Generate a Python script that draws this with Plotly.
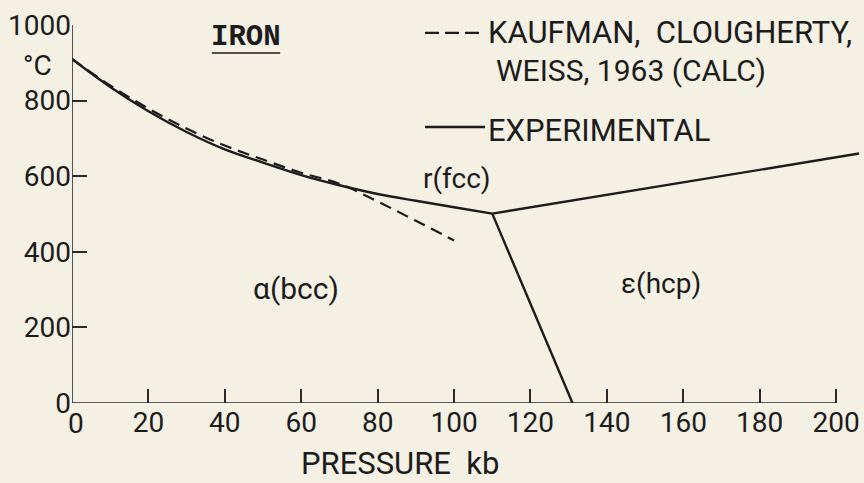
import plotly.graph_objects as go

# Phase boundaries of iron, pressure in kb, temperature in °C
alpha_gamma_p = [0, 10, 20, 30, 40, 50, 60, 70, 80, 90, 100, 110]
alpha_gamma_t = [910, 836, 772, 717, 671, 636, 603, 576, 553, 535, 518, 501]

calc_p = [0, 10, 20, 30, 40, 50, 60, 70, 80, 90, 100]
calc_t = [910, 840, 779, 726, 681, 644, 609, 580, 533, 482, 430]

gamma_eps_p = [110, 206]
gamma_eps_t = [501, 660]

alpha_eps_p = [110, 131]
alpha_eps_t = [501, 0]

x_ticks = [0, 20, 40, 60, 80, 100, 120, 140, 160, 180, 200]
x_ticktext = ["", "20", "40", "60", "80", "100", "120", "140", "160", "180", "200"]
y_ticks = [0, 200, 400, 600, 800, 1000]

BG = "#f4f0e3"
INK = "#1c1c1c"
SANS = "Liberation Sans Narrow, Roboto, sans-serif"

fig = go.Figure()

solid = dict(color=INK, width=2.4)
fig.add_trace(go.Scatter(x=alpha_gamma_p, y=alpha_gamma_t, mode="lines",
                         line=dict(shape="spline", **solid), showlegend=False))
fig.add_trace(go.Scatter(x=calc_p, y=calc_t, mode="lines",
                         line=dict(color=INK, width=2.2, dash="12px,7px", shape="spline"),
                         showlegend=False))
fig.add_trace(go.Scatter(x=gamma_eps_p, y=gamma_eps_t, mode="lines",
                         line=solid, showlegend=False, cliponaxis=False))
fig.add_trace(go.Scatter(x=alpha_eps_p, y=alpha_eps_t, mode="lines",
                         line=solid, showlegend=False))

shapes = [
    # axis lines
    dict(type="line", xref="x", yref="y", x0=0, x1=200, y0=0, y1=0,
         line=dict(color="#2a2a2a", width=1.6)),
    dict(type="line", xref="x", yref="y", x0=0, x1=0, y0=0, y1=1000,
         line=dict(color="#2a2a2a", width=1.6)),
    # underline of the title
    dict(type="line", xref="x", yref="y", x0=36.6, x1=54.5, y0=926, y1=926,
         line=dict(color=INK, width=1.6)),
    # key samples
    dict(type="line", xref="x", yref="y", x0=92.4, x1=107.8, y0=979, y1=979,
         line=dict(color=INK, width=2.2, dash="14px,6px")),
    dict(type="line", xref="x", yref="y", x0=92.4, x1=108.1, y0=730, y1=730,
         line=dict(color=INK, width=2.4)),
]

key_font = dict(family=SANS, size=30, color=INK)
phase_font = dict(family=SANS, size=28, color=INK)
annotations = [
    dict(x=45.5, y=966, xref="x", yref="y", text="<b>IRON</b>", showarrow=False,
         font=dict(family="Liberation Mono, DejaVu Sans Mono, monospace", size=29, color=INK)),
    dict(x=108.4, y=980, xref="x", yref="y", text="KAUFMAN,  CLOUGHERTY,",
         showarrow=False, xanchor="left", yanchor="middle",
         font=dict(family=SANS, size=31, color=INK)),
    dict(x=110.5, y=880, xref="x", yref="y", text="WEISS, 1963 (CALC)",
         showarrow=False, xanchor="left", yanchor="middle", font=key_font),
    dict(x=108.4, y=722, xref="x", yref="y", text="EXPERIMENTAL",
         showarrow=False, xanchor="left", yanchor="middle",
         font=dict(family=SANS, size=31, color=INK)),
    dict(x=100.8, y=595, xref="x", yref="y", text="r(fcc)", showarrow=False, font=phase_font),
    dict(x=58.6, y=303, xref="x", yref="y", text="α(bcc)", showarrow=False,
         font=dict(family=SANS, size=30, color=INK)),
    dict(x=154.2, y=317, xref="x", yref="y", text="ε(hcp)", showarrow=False, font=phase_font),
    dict(x=-0.044, y=0.894, xref="paper", yref="paper", text="°C", showarrow=False,
         xanchor="center", yanchor="middle", font=dict(family=SANS, size=28, color=INK)),
    # origin label of the pressure axis, set slightly right of the temperature 0
    dict(x=0.005, y=-0.053, xref="paper", yref="paper", text="0", showarrow=False,
         xanchor="center", yanchor="middle", font=dict(family=SANS, size=28, color=INK)),
    dict(x=0.414, y=-0.159, xref="paper", yref="paper", text="PRESSURE  kb",
         showarrow=False, xanchor="center", yanchor="middle",
         font=dict(family=SANS, size=31, color=INK)),
]

fig.update_layout(
    width=864, height=483,
    margin=dict(l=72, r=0, t=25, b=80),
    paper_bgcolor=BG, plot_bgcolor=BG,
    shapes=shapes, annotations=annotations,
    showlegend=False,
)
fig.update_xaxes(range=[0, 207.3], tickvals=x_ticks, ticktext=x_ticktext,
                 ticks="inside", ticklen=14,
                 tickwidth=1.5, tickcolor="#2a2a2a", showgrid=False, zeroline=False,
                 showline=False, tickfont=dict(family=SANS, size=28, color=INK))
fig.update_yaxes(range=[0, 1000], tickvals=y_ticks, ticks="inside", ticklen=15,
                 tickwidth=1.5, tickcolor="#2a2a2a", showgrid=False, zeroline=False,
                 showline=False, tickfont=dict(family=SANS, size=28, color=INK))

fig.write_html("out.html")
